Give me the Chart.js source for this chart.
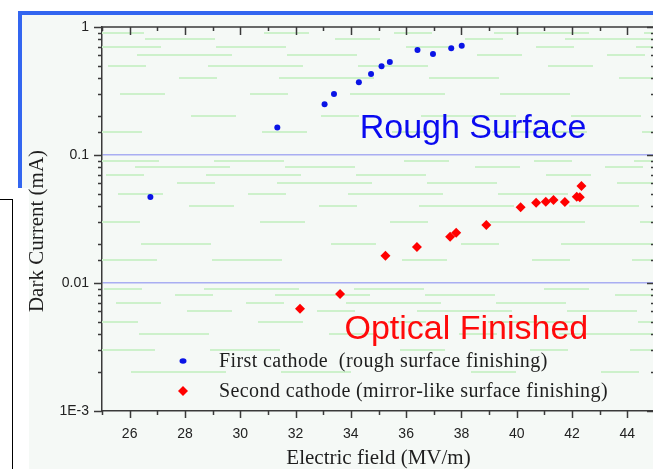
<!DOCTYPE html>
<html>
<head>
<meta charset="utf-8">
<title>Dark current vs electric field</title>
<script src="https://cdn.jsdelivr.net/npm/chart.js@4/dist/chart.umd.min.js"></script>
<style>
  html, body { margin: 0; padding: 0; background: #fff; overflow: hidden; }
  body { width: 653px; height: 469px; position: relative; }
  .frame { position: absolute; }
  #topLine { left: 18px; top: 11px; width: 640px; height: 4px; background: #3366f0; }
  #sideBar { left: 18px; top: 11px; width: 4px; height: 177px; background: #3366f0; }
  #panelTop { left: 22px; top: 15px; width: 640px; height: 173px; background: #f5f9f6; }
  #panelLow { left: 29px; top: 188px; width: 640px; height: 290px; background: #f5f9f6; }
  #sideBox { left: -1px; top: 199px; width: 12px; height: 290px; border: 1px solid #000; background: #fff; }
  #wrap { position: absolute; left: 0; top: 0; width: 660px; height: 469px; }
</style>
</head>
<body>
<div class="frame" id="panelTop"></div>
<div class="frame" id="panelLow"></div>
<div class="frame" id="topLine"></div>
<div class="frame" id="sideBar"></div>
<div class="frame" id="sideBox"></div>
<div id="wrap"><canvas id="fieldChart" width="660" height="469"></canvas></div>
<script>
// First cathode (rough surface) — field in MV/m, current in mA
const firstField   = [26.75, 31.34, 33.05, 33.39, 34.29, 34.73, 35.11, 35.41, 36.41, 36.97, 37.63, 38.01];
const firstCurrent = [0.047, 0.164, 0.249, 0.300, 0.370, 0.430, 0.493, 0.533, 0.661, 0.615, 0.682, 0.714];

// Second cathode (mirror-like surface)
const secondField   = [32.16, 33.61, 35.25, 36.39, 37.59, 37.81, 38.90, 40.14, 40.70, 41.05, 41.33, 41.74, 42.17, 42.28, 42.34];
const secondCurrent = [0.0063, 0.0082, 0.0163, 0.0191, 0.0230, 0.0247, 0.0284, 0.0390, 0.0424, 0.0432, 0.0445, 0.0430, 0.0472, 0.0468, 0.0573];

const seriesLabels = ['First cathode  (rough surface finishing)', 'Second cathode (mirror-like surface finishing)'];

// axis labels
const xTickLabels = [26, 28, 30, 32, 34, 36, 38, 40, 42, 44];
const yTickValues = [1, 0.1, 0.01, 0.001];
const yTickTexts  = ['1', '0.1', '0.01', '1E-3'];
const yLineValues = [0.1, 0.01];

// text notes placed in data units
const noteTexts  = ['Rough Surface', 'Optical Finished'];
const noteFields = [34.32, 33.77];
const noteLevels = [0.136, 0.00363];
const noteColors = ['#0a0af0', '#ff0a0a'];

const SANS = '"Liberation Sans", Arial, sans-serif';
const SERIF = '"Liberation Serif", "Times New Roman", serif';

function isDecade(v) {
  const e = Math.log10(v);
  return Math.abs(e - Math.round(e)) < 1e-9;
}

function toPoints(xs, ys) {
  return xs.map((x, i) => ({ x: x, y: ys[i] }));
}

// faint green minor grid fragments behind the data
const minorGridPlugin = {
  id: 'minorGrid',
  beforeDatasetsDraw(chart) {
    const { ctx, chartArea: a } = chart;
    const y = chart.scales.y;
    ctx.save();
    ctx.beginPath();
    ctx.rect(a.left, a.top, a.right - a.left, a.bottom - a.top);
    ctx.clip();
    ctx.strokeStyle = '#cdf1cb';
    ctx.lineWidth = 2;
    y.ticks.forEach((t, i) => {
      if (isDecade(t.value)) return;
      const py = Math.round(y.getPixelForValue(t.value));
      ctx.setLineDash([38, 62, 95, 55, 70, 120, 45, 85]);
      ctx.lineDashOffset = (i * 71) % 570;
      ctx.beginPath();
      ctx.moveTo(a.left, py);
      ctx.lineTo(a.right, py);
      ctx.stroke();
    });
    ctx.restore();
  }
};

// tick marks: outward on left/bottom, inward on top/right, plus frame
const tickPlugin = {
  id: 'frameTicks',
  afterDatasetsDraw(chart) {
    const { ctx, chartArea: a } = chart;
    const xs = chart.scales.x, ys = chart.scales.y;
    ctx.save();
    ctx.strokeStyle = '#3a3a3a';
    ctx.lineWidth = 1.5;
    ctx.beginPath();
    ctx.moveTo(a.left, a.top);
    ctx.lineTo(a.right, a.top);
    ctx.lineTo(a.right, a.bottom);
    ctx.stroke();
    ctx.beginPath();
    ys.ticks.forEach(t => {
      const py = Math.round(ys.getPixelForValue(t.value)) + 0.5;
      const major = isDecade(t.value);
      ctx.moveTo(a.left - (major ? 8 : 4), py);
      ctx.lineTo(a.left, py);
      ctx.moveTo(a.right - (major ? 8 : 4), py);
      ctx.lineTo(a.right, py);
    });
    xs.ticks.forEach(t => {
      const px = Math.round(xs.getPixelForValue(t.value)) + 0.5;
      const major = t.value % 2 === 0;
      ctx.moveTo(px, a.bottom);
      ctx.lineTo(px, a.bottom + (major ? 7 : 4));
      ctx.moveTo(px, a.top);
      ctx.lineTo(px, a.top + (major ? 8 : 4));
    });
    ctx.stroke();
    ctx.restore();
  }
};

// in-plot notes, legend and the y title
const textPlugin = {
  id: 'plotText',
  afterDraw(chart) {
    const { ctx, chartArea: a } = chart;
    const xs = chart.scales.x, ys = chart.scales.y;
    ctx.save();
    ctx.textBaseline = 'alphabetic';
    ctx.textAlign = 'left';
    ctx.font = '34px ' + SANS;
    noteTexts.forEach((txt, i) => {
      ctx.fillStyle = noteColors[i];
      ctx.fillText(txt, xs.getPixelForValue(noteFields[i]), ys.getPixelForValue(noteLevels[i]));
    });

    // legend rows
    ctx.font = '20px ' + SERIF;
    ctx.letterSpacing = '0.4px';
    ctx.textBaseline = 'middle';
    chart.data.datasets.forEach((ds, i) => {
      const my = a.top + 334 + i * 30;
      const mx = a.left + 81;
      ctx.fillStyle = ds.backgroundColor;
      ctx.beginPath();
      if (ds.pointStyle === 'rectRot') {
        const r = ds.pointRadius;
        ctx.moveTo(mx, my - r);
        ctx.lineTo(mx + r, my);
        ctx.lineTo(mx, my + r);
        ctx.lineTo(mx - r, my);
        ctx.closePath();
      } else {
        ctx.ellipse(mx, my, ds.pointRadius + 0.5, ds.pointRadius - 0.3, 0, 0, Math.PI * 2);
      }
      ctx.fill();
      ctx.fillStyle = '#1e1e1e';
      ctx.fillText(ds.label, a.left + 117, my + 1);
    });
    ctx.letterSpacing = '0px';

    // y axis title
    ctx.translate(37, 231);
    ctx.rotate(-Math.PI / 2);
    ctx.textAlign = 'center';
    ctx.textBaseline = 'middle';
    ctx.font = '21px ' + SERIF;
    ctx.fillStyle = '#1e1e1e';
    ctx.fillText('Dark Current (mA)', 0, 0);
    ctx.restore();
  }
};

const ctx = document.getElementById('fieldChart').getContext('2d');

new Chart(ctx, {
  type: 'scatter',
  data: {
    datasets: [
      {
        label: seriesLabels[0],
        data: toPoints(firstField, firstCurrent),
        backgroundColor: '#0a14e6',
        borderWidth: 0,
        pointStyle: 'circle',
        pointRadius: 3
      },
      {
        label: seriesLabels[1],
        data: toPoints(secondField, secondCurrent),
        backgroundColor: '#ff0000',
        borderWidth: 0,
        pointStyle: 'rectRot',
        pointRadius: 5
      }
    ]
  },
  options: {
    responsive: false,
    devicePixelRatio: 1,
    animation: false,
    layout: { padding: { left: 0, top: 27, right: 3, bottom: 0 } },
    plugins: {
      legend: { display: false },
      tooltip: { enabled: false }
    },
    elements: { point: { hoverRadius: 0 } },
    scales: {
      x: {
        type: 'linear',
        position: 'bottom',
        min: 25,
        max: 45,
        afterFit(scale) {
          scale.height = 58;
          scale.paddingLeft = 0;
          scale.paddingRight = 0;
        },
        grid: { display: false },
        border: { display: true, color: '#3a3a3a', width: 1.5 },
        ticks: {
          stepSize: 1,
          autoSkip: false,
          maxRotation: 0,
          padding: 7,
          color: '#222',
          font: { family: SANS, size: 14 },
          callback: v => (xTickLabels.includes(v) ? String(v) : '')
        },
        title: {
          display: true,
          text: 'Electric field (MV/m)',
          color: '#1e1e1e',
          padding: { top: 0, bottom: 0 },
          font: { family: SERIF, size: 21, lineHeight: 1 }
        }
      },
      y: {
        type: 'logarithmic',
        position: 'left',
        min: 0.001,
        max: 1,
        afterFit(scale) { scale.width = 102; },
        grid: {
          drawTicks: false,
          lineWidth: 1.5,
          color: c => (c.tick && yLineValues.some(v => Math.abs(v - c.tick.value) < 1e-9) ? '#a9aef2' : 'rgba(0,0,0,0)')
        },
        border: { display: true, color: '#3a3a3a', width: 1.5 },
        ticks: {
          autoSkip: false,
          padding: 13,
          color: '#222',
          font: { family: SANS, size: 14 },
          callback: v => {
            const i = yTickValues.findIndex(t => Math.abs(t - v) < 1e-12);
            return i >= 0 ? yTickTexts[i] : '';
          }
        }
      }
    }
  },
  plugins: [minorGridPlugin, tickPlugin, textPlugin]
});
</script>
</body>
</html>
